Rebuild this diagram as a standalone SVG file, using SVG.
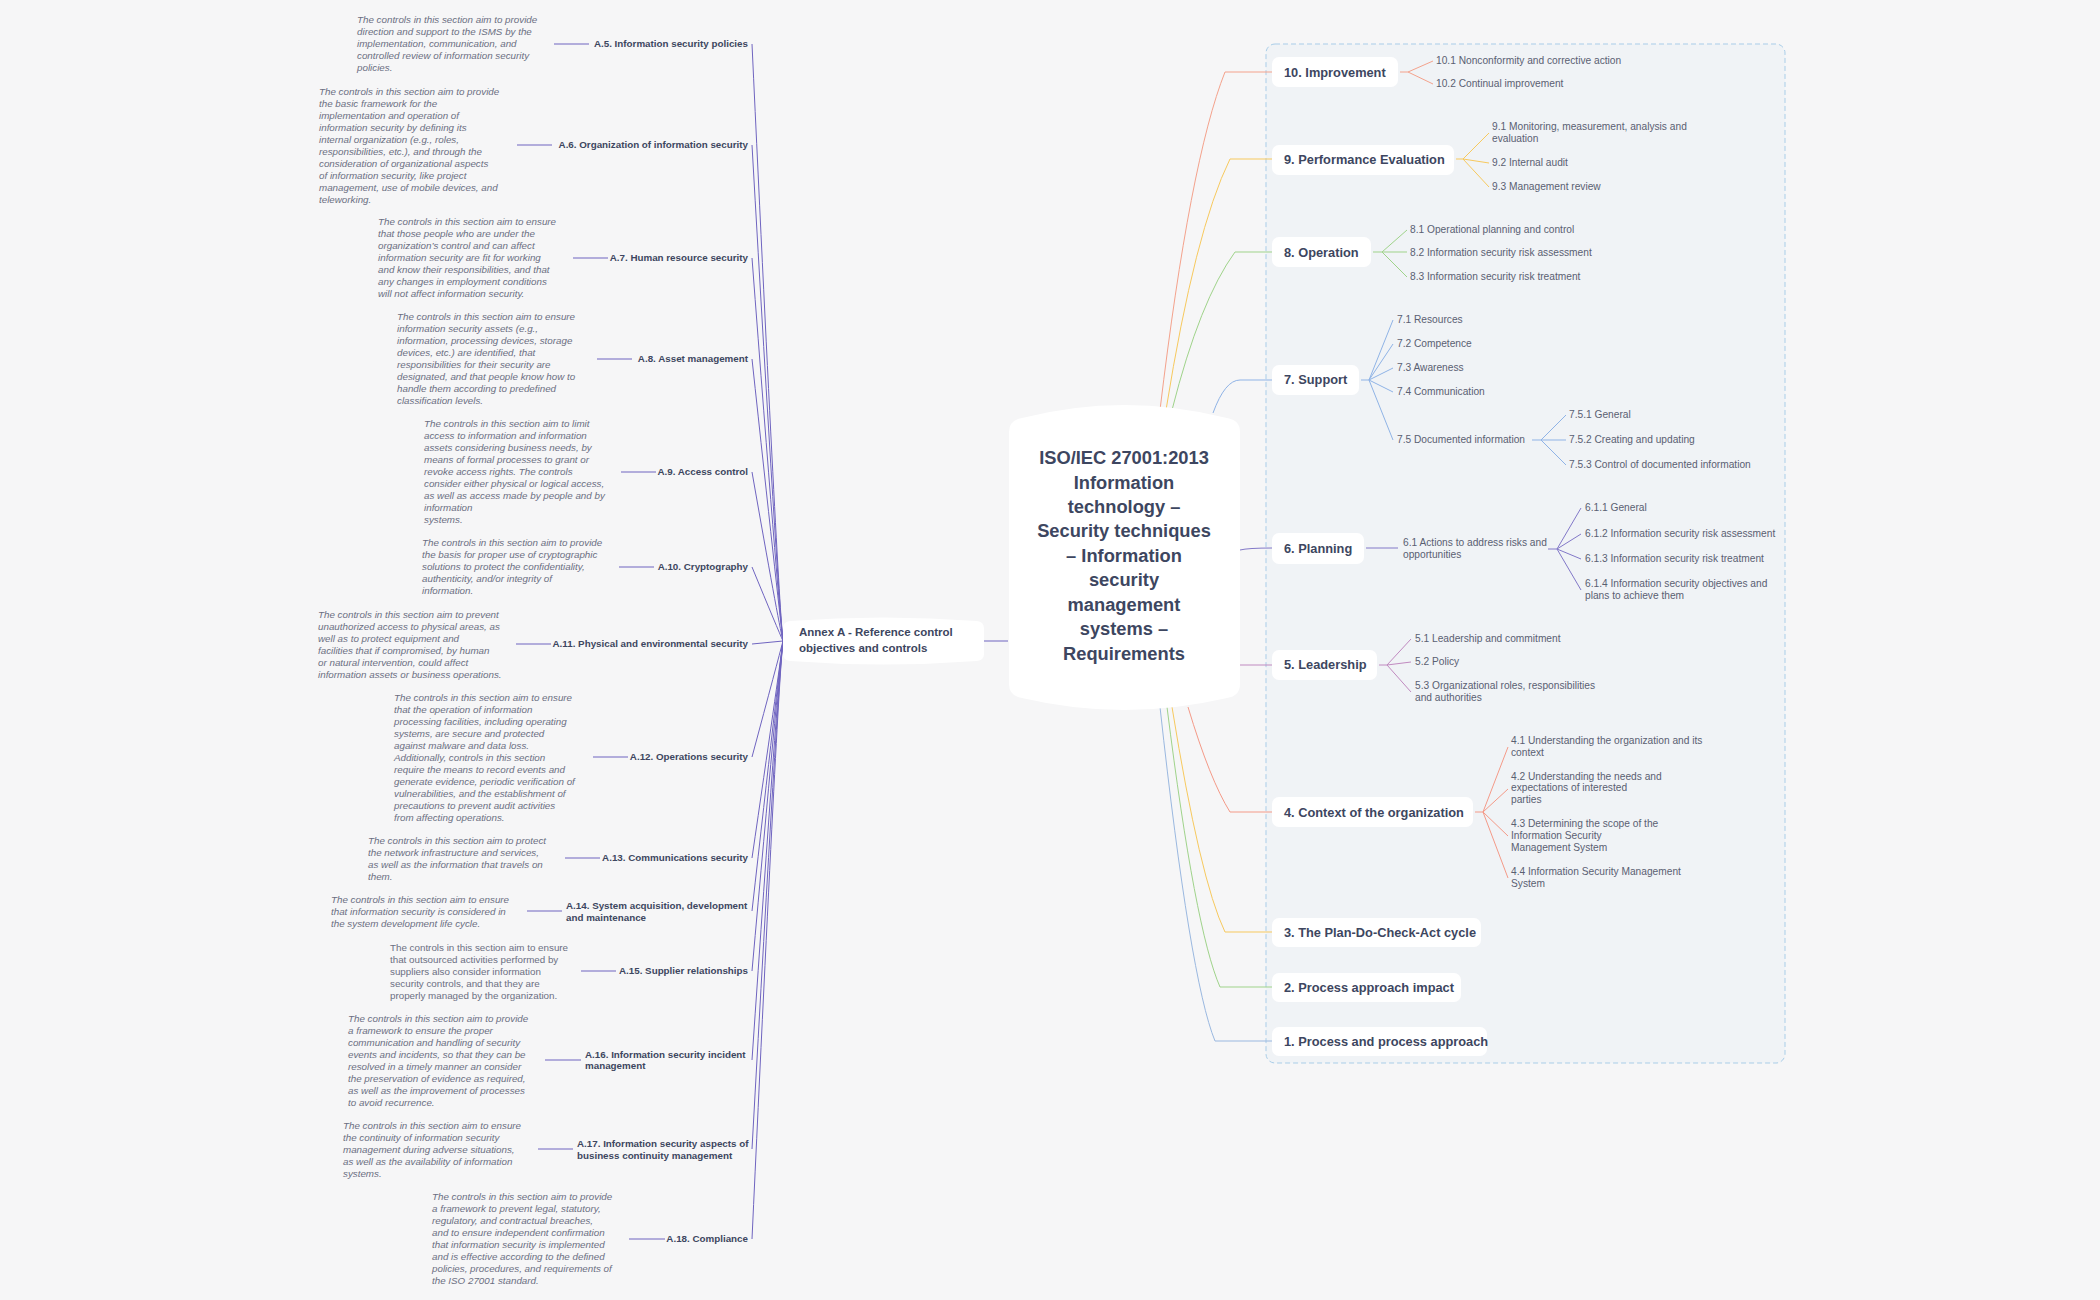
<svg xmlns="http://www.w3.org/2000/svg" width="2100" height="1300" viewBox="0 0 2100 1300">
<style>
text{font-family:"Liberation Sans",Arial,sans-serif}
.d{font-size:9.8px;font-style:italic;fill:#6b6f82}
.du{font-size:9.8px;fill:#6b6f82}
.l{font-size:9.8px;font-weight:bold;fill:#3d4660}
.m{font-size:12.8px;font-weight:bold;fill:#3d4660}
.s{font-size:10.2px;fill:#5a6072}
.c{font-size:18.3px;font-weight:bold;fill:#3d4660;text-anchor:middle}
.a{font-size:11.5px;font-weight:bold;fill:#3d4660}
.pl{stroke:#6f64c0;stroke-width:1;fill:none}
.nb{fill:#fff}
</style>
<rect width="2100" height="1300" fill="#f6f6f7"/>
<rect x="1266" y="44" width="519" height="1019" rx="9" fill="#f0f3f6" stroke="#a9cde8" stroke-dasharray="5,3"/>
<g id="connectors" fill="none">
<path class="pl" d="M1008 641H984"/>
<g class="pl">
<path d="M783 641Q778 600 752 44"/><path d="M783 641Q778 600 752 145"/><path d="M783 641Q778 600 752 258"/><path d="M783 641Q778 600 752 359"/><path d="M783 641Q778 620 752 472"/><path d="M783 641Q778 630 752 567"/><path d="M783 641L752 644"/><path d="M783 641Q778 660 752 757"/><path d="M783 641Q778 680 752 858"/><path d="M783 641Q778 680 752 911"/><path d="M783 641Q778 680 752 971"/><path d="M783 641Q778 680 752 1060"/><path d="M783 641Q778 680 752 1149"/><path d="M783 641Q778 680 752 1239"/>
<path d="M554 44H589"/><path d="M517 145H552"/><path d="M573 258H608"/><path d="M597 359H632"/><path d="M621 472H656"/><path d="M619 567H654"/><path d="M516 644H551"/><path d="M593 757H628"/><path d="M565 858H600"/><path d="M527 911H562"/><path d="M581 971H616"/><path d="M545 1060H581"/><path d="M538 1149H573"/><path d="M629 1239H665"/>
</g>
<path d="M1160 410Q1190 160 1225 72H1272" stroke="#f4a28c"/>
<path d="M1166 410Q1195 230 1230 159H1272" stroke="#f7c95e"/>
<path d="M1172 410Q1200 300 1235 252H1272" stroke="#9fd38a"/>
<path d="M1213 413Q1225 380 1240 380H1272" stroke="#8fb3e6"/>
<path d="M1240 550Q1248 548 1272 548" stroke="#8278c8"/>
<path d="M1240 665H1272" stroke="#c08ac0"/>
<path d="M1188 707Q1210 780 1230 812H1272" stroke="#f49a88"/>
<path d="M1172 707Q1200 880 1225 932H1272" stroke="#f7c95e"/>
<path d="M1167 707Q1195 930 1220 987H1272" stroke="#9fd38a"/>
<path d="M1160 707Q1190 980 1215 1041H1272" stroke="#9ab8e0"/>
<g stroke="#f4a28c"><path d="M1400 72H1408L1433 61M1408 72L1433 84"/></g>
<g stroke="#f7c95e"><path d="M1456 159H1463L1489 133M1463 159L1489 163M1463 159L1489 187"/></g>
<g stroke="#9fd38a"><path d="M1373 252H1382L1407 230M1382 252H1407M1382 252L1407 277"/></g>
<g stroke="#8fb3e6"><path d="M1361 380H1369L1393 320M1369 380L1393 344M1369 380L1393 368M1369 380L1393 392M1369 380L1393 440"/><path d="M1532 440H1541L1566 415M1541 440H1566M1541 440L1566 465"/></g>
<g stroke="#8278c8"><path d="M1366 548H1398"/><path d="M1548 549H1557L1581 508M1557 549L1581 534M1557 549L1581 559M1557 549L1581 590"/></g>
<g stroke="#c08ac0"><path d="M1379 665H1387L1411 639M1387 665L1411 662M1387 665L1411 692"/></g>
<g stroke="#f49a88"><path d="M1475 812H1483L1508 747M1483 812L1508 789M1483 812L1508 836M1483 812L1508 878"/></g>
</g>
<g id="center"><path class="nb" d="M1009 432Q1009 420 1022 418Q1124 392 1227 418Q1240 420 1240 432V684Q1240 696 1227 698Q1124 722 1022 698Q1009 696 1009 684Z"/>
<text class="c"><tspan x="1124" y="464">ISO/IEC 27001:2013</tspan><tspan x="1124" y="489">Information</tspan><tspan x="1124" y="513">technology –</tspan><tspan x="1124" y="537">Security techniques</tspan><tspan x="1124" y="562">– Information</tspan><tspan x="1124" y="586">security</tspan><tspan x="1124" y="611">management</tspan><tspan x="1124" y="635">systems –</tspan><tspan x="1124" y="660">Requirements</tspan></text></g>
<g id="annex"><path class="nb" d="M783 628Q783 622 790 621Q883 614 977 621Q984 622 984 628V654Q984 660 977 661Q883 668 790 661Q783 660 783 654Z"/><text class="a"><tspan x="799" y="636">Annex A - Reference control</tspan><tspan x="799" y="652">objectives and controls</tspan></text></g>
<g id="a5"><text class="l" x="748" y="47" text-anchor="end">A.5. Information security policies</text><text class="d"><tspan x="357" y="23">The controls in this section aim to provide</tspan><tspan x="357" y="35">direction and support to the ISMS by the</tspan><tspan x="357" y="47">implementation, communication, and</tspan><tspan x="357" y="59">controlled review of information security</tspan><tspan x="357" y="71">policies.</tspan></text></g>
<g id="a6"><text class="l" x="748" y="148" text-anchor="end">A.6. Organization of information security</text><text class="d"><tspan x="319" y="95">The controls in this section aim to provide</tspan><tspan x="319" y="107">the basic framework for the</tspan><tspan x="319" y="119">implementation and operation of</tspan><tspan x="319" y="131">information security by defining its</tspan><tspan x="319" y="143">internal organization (e.g., roles,</tspan><tspan x="319" y="155">responsibilities, etc.), and through the</tspan><tspan x="319" y="167">consideration of organizational aspects</tspan><tspan x="319" y="179">of information security, like project</tspan><tspan x="319" y="191">management, use of mobile devices, and</tspan><tspan x="319" y="203">teleworking.</tspan></text></g>
<g id="a7"><text class="l" x="748" y="261" text-anchor="end">A.7. Human resource security</text><text class="d"><tspan x="378" y="225">The controls in this section aim to ensure</tspan><tspan x="378" y="237">that those people who are under the</tspan><tspan x="378" y="249">organization’s control and can affect</tspan><tspan x="378" y="261">information security are fit for working</tspan><tspan x="378" y="273">and know their responsibilities, and that</tspan><tspan x="378" y="285">any changes in employment conditions</tspan><tspan x="378" y="297">will not affect information security.</tspan></text></g>
<g id="a8"><text class="l" x="748" y="362" text-anchor="end">A.8. Asset management</text><text class="d"><tspan x="397" y="320">The controls in this section aim to ensure</tspan><tspan x="397" y="332">information security assets (e.g.,</tspan><tspan x="397" y="344">information, processing devices, storage</tspan><tspan x="397" y="356">devices, etc.) are identified, that</tspan><tspan x="397" y="368">responsibilities for their security are</tspan><tspan x="397" y="380">designated, and that people know how to</tspan><tspan x="397" y="392">handle them according to predefined</tspan><tspan x="397" y="404">classification levels.</tspan></text></g>
<g id="a9"><text class="l" x="748" y="475" text-anchor="end">A.9. Access control</text><text class="d"><tspan x="424" y="427">The controls in this section aim to limit</tspan><tspan x="424" y="439">access to information and information</tspan><tspan x="424" y="451">assets considering business needs, by</tspan><tspan x="424" y="463">means of formal processes to grant or</tspan><tspan x="424" y="475">revoke access rights. The controls</tspan><tspan x="424" y="487">consider either physical or logical access,</tspan><tspan x="424" y="499">as well as access made by people and by</tspan><tspan x="424" y="511">information</tspan><tspan x="424" y="523">systems.</tspan></text></g>
<g id="a10"><text class="l" x="748" y="570" text-anchor="end">A.10. Cryptography</text><text class="d"><tspan x="422" y="546">The controls in this section aim to provide</tspan><tspan x="422" y="558">the basis for proper use of cryptographic</tspan><tspan x="422" y="570">solutions to protect the confidentiality,</tspan><tspan x="422" y="582">authenticity, and/or integrity of</tspan><tspan x="422" y="594">information.</tspan></text></g>
<g id="a11"><text class="l" x="748" y="647" text-anchor="end">A.11. Physical and environmental security</text><text class="d"><tspan x="318" y="618">The controls in this section aim to prevent</tspan><tspan x="318" y="630">unauthorized access to physical areas, as</tspan><tspan x="318" y="642">well as to protect equipment and</tspan><tspan x="318" y="654">facilities that if compromised, by human</tspan><tspan x="318" y="666">or natural intervention, could affect</tspan><tspan x="318" y="678">information assets or business operations.</tspan></text></g>
<g id="a12"><text class="l" x="748" y="760" text-anchor="end">A.12. Operations security</text><text class="d"><tspan x="394" y="701">The controls in this section aim to ensure</tspan><tspan x="394" y="713">that the operation of information</tspan><tspan x="394" y="725">processing facilities, including operating</tspan><tspan x="394" y="737">systems, are secure and protected</tspan><tspan x="394" y="749">against malware and data loss.</tspan><tspan x="394" y="761">Additionally, controls in this section</tspan><tspan x="394" y="773">require the means to record events and</tspan><tspan x="394" y="785">generate evidence, periodic verification of</tspan><tspan x="394" y="797">vulnerabilities, and the establishment of</tspan><tspan x="394" y="809">precautions to prevent audit activities</tspan><tspan x="394" y="821">from affecting operations.</tspan></text></g>
<g id="a13"><text class="l" x="748" y="861" text-anchor="end">A.13. Communications security</text><text class="d"><tspan x="368" y="844">The controls in this section aim to protect</tspan><tspan x="368" y="856">the network infrastructure and services,</tspan><tspan x="368" y="868">as well as the information that travels on</tspan><tspan x="368" y="880">them.</tspan></text></g>
<g id="a14"><text class="l"><tspan x="566" y="909">A.14. System acquisition, development</tspan><tspan x="566" y="921">and maintenance</tspan></text><text class="d"><tspan x="331" y="903">The controls in this section aim to ensure</tspan><tspan x="331" y="915">that information security is considered in</tspan><tspan x="331" y="927">the system development life cycle.</tspan></text></g>
<g id="a15"><text class="l" x="748" y="974" text-anchor="end">A.15. Supplier relationships</text><text class="du"><tspan x="390" y="951">The controls in this section aim to ensure</tspan><tspan x="390" y="963">that outsourced activities performed by</tspan><tspan x="390" y="975">suppliers also consider information</tspan><tspan x="390" y="987">security controls, and that they are</tspan><tspan x="390" y="999">properly managed by the organization.</tspan></text></g>
<g id="a16"><text class="l"><tspan x="585" y="1058">A.16. Information security incident</tspan><tspan x="585" y="1069">management</tspan></text><text class="d"><tspan x="348" y="1022">The controls in this section aim to provide</tspan><tspan x="348" y="1034">a framework to ensure the proper</tspan><tspan x="348" y="1046">communication and handling of security</tspan><tspan x="348" y="1058">events and incidents, so that they can be</tspan><tspan x="348" y="1070">resolved in a timely manner an consider</tspan><tspan x="348" y="1082">the preservation of evidence as required,</tspan><tspan x="348" y="1094">as well as the improvement of processes</tspan><tspan x="348" y="1106">to avoid recurrence.</tspan></text></g>
<g id="a17"><text class="l"><tspan x="577" y="1147">A.17. Information security aspects of</tspan><tspan x="577" y="1159">business continuity management</tspan></text><text class="d"><tspan x="343" y="1129">The controls in this section aim to ensure</tspan><tspan x="343" y="1141">the continuity of information security</tspan><tspan x="343" y="1153">management during adverse situations,</tspan><tspan x="343" y="1165">as well as the availability of information</tspan><tspan x="343" y="1177">systems.</tspan></text></g>
<g id="a18"><text class="l" x="748" y="1242" text-anchor="end">A.18. Compliance</text><text class="d"><tspan x="432" y="1200">The controls in this section aim to provide</tspan><tspan x="432" y="1212">a framework to prevent legal, statutory,</tspan><tspan x="432" y="1224">regulatory, and contractual breaches,</tspan><tspan x="432" y="1236">and to ensure independent confirmation</tspan><tspan x="432" y="1248">that information security is implemented</tspan><tspan x="432" y="1260">and is effective according to the defined</tspan><tspan x="432" y="1272">policies, procedures, and requirements of</tspan><tspan x="432" y="1284">the ISO 27001 standard.</tspan></text></g>
<g id="n10"><rect class="nb" x="1272" y="57" width="126" height="30" rx="7"/><text class="m" x="1284" y="77">10.  Improvement</text><text class="s"><tspan x="1436" y="64">10.1 Nonconformity and corrective action</tspan><tspan x="1436" y="87">10.2 Continual improvement</tspan></text></g>
<g id="n9"><rect class="nb" x="1272" y="145" width="182" height="30" rx="7"/><text class="m" x="1284" y="164">9.  Performance Evaluation</text><text class="s"><tspan x="1492" y="130">9.1 Monitoring, measurement, analysis and</tspan><tspan x="1492" y="142">evaluation</tspan><tspan x="1492" y="166">9.2 Internal audit</tspan><tspan x="1492" y="190">9.3 Management review</tspan></text></g>
<g id="n8"><rect class="nb" x="1272" y="237" width="99" height="30" rx="7"/><text class="m" x="1284" y="257">8.  Operation</text><text class="s"><tspan x="1410" y="233">8.1 Operational planning and control</tspan><tspan x="1410" y="256">8.2 Information security risk assessment</tspan><tspan x="1410" y="280">8.3 Information security risk treatment</tspan></text></g>
<g id="n7"><rect class="nb" x="1272" y="365" width="87" height="30" rx="7"/><text class="m" x="1284" y="384">7.  Support</text><text class="s"><tspan x="1397" y="323">7.1 Resources</tspan><tspan x="1397" y="347">7.2 Competence</tspan><tspan x="1397" y="371">7.3 Awareness</tspan><tspan x="1397" y="395">7.4 Communication</tspan><tspan x="1397" y="443">7.5 Documented information</tspan><tspan x="1569" y="418">7.5.1 General</tspan><tspan x="1569" y="443">7.5.2 Creating and updating</tspan><tspan x="1569" y="468">7.5.3 Control of documented information</tspan></text></g>
<g id="n6"><rect class="nb" x="1272" y="533" width="92" height="31" rx="7"/><text class="m" x="1284" y="553">6.  Planning</text><text class="s"><tspan x="1403" y="546">6.1 Actions to address risks and</tspan><tspan x="1403" y="558">opportunities</tspan><tspan x="1585" y="511">6.1.1 General</tspan><tspan x="1585" y="537">6.1.2 Information security risk assessment</tspan><tspan x="1585" y="562">6.1.3 Information security risk treatment</tspan><tspan x="1585" y="587">6.1.4 Information security objectives and</tspan><tspan x="1585" y="599">plans to achieve them</tspan></text></g>
<g id="n5"><rect class="nb" x="1272" y="650" width="105" height="30" rx="7"/><text class="m" x="1284" y="669">5.  Leadership</text><text class="s"><tspan x="1415" y="642">5.1 Leadership and commitment</tspan><tspan x="1415" y="665">5.2 Policy</tspan><tspan x="1415" y="689">5.3 Organizational roles, responsibilities</tspan><tspan x="1415" y="701">and authorities</tspan></text></g>
<g id="n4"><rect class="nb" x="1272" y="797" width="201" height="30" rx="7"/><text class="m" x="1284" y="817">4.  Context of the organization</text><text class="s"><tspan x="1511" y="744">4.1 Understanding the organization and its</tspan><tspan x="1511" y="756">context</tspan><tspan x="1511" y="780">4.2 Understanding the needs and</tspan><tspan x="1511" y="791">expectations of interested</tspan><tspan x="1511" y="803">parties</tspan><tspan x="1511" y="827">4.3 Determining the scope of the</tspan><tspan x="1511" y="839">Information Security</tspan><tspan x="1511" y="851">Management System</tspan><tspan x="1511" y="875">4.4 Information Security Management</tspan><tspan x="1511" y="887">System</tspan></text></g>
<g id="n3"><rect class="nb" x="1272" y="918" width="209" height="29" rx="7"/><text class="m" x="1284" y="937">3.  The Plan-Do-Check-Act cycle</text></g>
<g id="n2"><rect class="nb" x="1272" y="973" width="189" height="29" rx="7"/><text class="m" x="1284" y="992">2.  Process approach impact</text></g>
<g id="n1"><rect class="nb" x="1272" y="1027" width="215" height="29" rx="7"/><text class="m" x="1284" y="1046">1.  Process and process approach</text></g>
</svg>
